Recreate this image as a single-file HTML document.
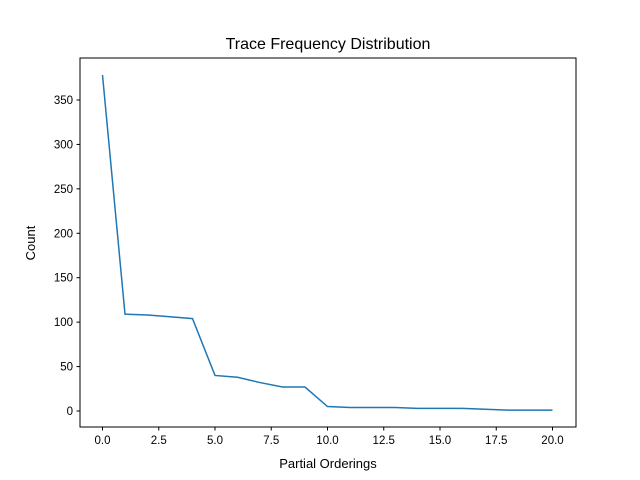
<!DOCTYPE html>
<html><head><meta charset="utf-8"><style>
body{margin:0;background:#fff;}
svg{display:block;font-family:"Liberation Sans","DejaVu Sans",sans-serif;}
</style></head><body>
<svg id="chart" width="640" height="480">
<rect x="0" y="0" width="640" height="480" fill="#fff"/>
<g id="plot"></g>
<rect x="80" y="58" width="496" height="369" fill="none" stroke="#000" stroke-width="1"/>
<text x="328" y="49" text-anchor="middle" font-size="16">Trace Frequency Distribution</text>
<text x="328" y="468" text-anchor="middle" font-size="13">Partial Orderings</text>
<text x="35" y="243" text-anchor="middle" font-size="13" transform="rotate(-90 35 243)">Count</text>
</svg>
<script>
const orderings=[0,1,2,3,4,5,6,7,8,9,10,11,12,13,14,15,16,17,18,19,20];
const counts=[378,109,108,106,104,40,38,32,27,27,5,4,4,4,3,3,3,2,1,1,1];
const xTicks=[0,2.5,5,7.5,10,12.5,15,17.5,20];
const xTickLabels=["0.0","2.5","5.0","7.5","10.0","12.5","15.0","17.5","20.0"];
const yTicks=[0,50,100,150,200,250,300,350];
const yTickLabels=["0","50","100","150","200","250","300","350"];
const NS="http://www.w3.org/2000/svg";
function xs(v){return 102.5+v*22.5;}
function ys(v){return 411-v*0.8886;}
const g=document.getElementById('plot');
function mk(t,a){const e=document.createElementNS(NS,t);for(const k in a)e.setAttribute(k,a[k]);g.appendChild(e);return e;}
xTicks.forEach((t,i)=>{
  const l=mk('line',{x1:xs(t),x2:xs(t),y1:427,y2:430.5,stroke:'#000'});
  
  
  const tx=mk('text',{x:xs(t),y:444,'text-anchor':'middle','font-size':'11.5'});
  tx.textContent=xTickLabels[i];
  
  
});
yTicks.forEach((t,i)=>{
  const l=mk('line',{x1:76.5,x2:80,y1:ys(t),y2:ys(t),stroke:'#000'});
  
  
  const tx=mk('text',{x:73,y:ys(t)+4,'text-anchor':'end','font-size':'11.5'});
  tx.textContent=yTickLabels[i];
  
  
});
const pts=orderings.map((o,i)=>xs(o)+','+ys(counts[i])).join(' ');
const pl=mk('polyline',{points:pts,fill:'none',stroke:'#1f77b4','stroke-width':'1.5'});


</script>
</body></html>
